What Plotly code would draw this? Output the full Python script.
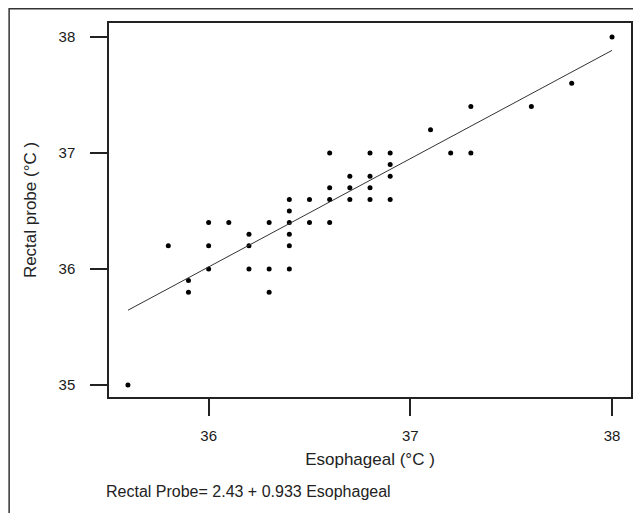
import plotly.graph_objs as go

# esophageal vs rectal probe temperatures (°C)
esophageal = [35.6, 35.8, 35.9, 35.9, 36.0, 36.0, 36.0, 36.1, 36.2, 36.2, 36.2,
              36.3, 36.3, 36.3, 36.4, 36.4, 36.4, 36.4, 36.4, 36.4, 36.5, 36.5,
              36.6, 36.6, 36.6, 36.6, 36.7, 36.7, 36.7, 36.8, 36.8, 36.8, 36.8,
              36.9, 36.9, 36.9, 36.9, 37.1, 37.2, 37.3, 37.3, 37.6, 37.8, 38.0]
rectal = [35.0, 36.2, 35.9, 35.8, 36.4, 36.2, 36.0, 36.4, 36.3, 36.2, 36.0,
          36.4, 36.0, 35.8, 36.6, 36.5, 36.4, 36.3, 36.2, 36.0, 36.6, 36.4,
          37.0, 36.7, 36.6, 36.4, 36.8, 36.7, 36.6, 37.0, 36.8, 36.7, 36.6,
          37.0, 36.9, 36.8, 36.6, 37.2, 37.0, 37.4, 37.0, 37.4, 37.6, 38.0]

intercept = 2.43
slope = 0.933
ticks = [35, 36, 37, 38]

# page has an 8px body margin, so the figure is drawn 8px in
W, H = 633, 505
L, R, T, B = 101, 8, 15, 116
pw, ph = W - L - R, H - T - B

font = "Liberation Sans, Arial, sans-serif"

fig = go.Figure()
fig.add_trace(go.Scatter(
    x=esophageal, y=rectal, mode='markers',
    marker={'color': 'black', 'size': 5}, showlegend=False))

x_fit = [min(esophageal), max(esophageal)]
y_fit = [intercept + slope * v for v in x_fit]
fig.add_trace(go.Scatter(
    x=x_fit, y=y_fit, mode='lines',
    line={'color': '#333333', 'width': 1}, showlegend=False))

axis_style = dict(
    showgrid=False, zeroline=False, showline=True, mirror=True,
    linecolor='#222222', linewidth=1.5, ticks='outside', ticklen=17,
    tickwidth=1.5, tickcolor='#222222',
    tickfont={'family': font, 'size': 15, 'color': '#1a1a1a'},
    tickvals=ticks,
)

fig.update_layout(
    width=W, height=H,
    margin=dict(l=L, r=R, t=T, b=B, pad=0),
    plot_bgcolor='white', paper_bgcolor='white',
    xaxis=dict(axis_style, range=[35.506, 38.094],
               ticklabelstandoff=7,
               title=dict(text='Esophageal (°C )', standoff=10,
                          font={'family': font, 'size': 17, 'color': '#222222'})),
    yaxis=dict(axis_style, range=[34.897, 38.12],
               ticklabelstandoff=12,
               title=dict(text='Rectal probe (°C )', standoff=18,
                          font={'family': font, 'size': 17, 'color': '#222222'})),
    annotations=[dict(
        text='Rectal Probe= 2.43 + 0.933 Esophageal',
        xref='paper', yref='paper', x=(96 - L) / pw, y=(389 - 484) / ph,
        xanchor='left', yanchor='middle', showarrow=False,
        font={'family': font, 'size': 16, 'color': '#222222'})],
    shapes=[dict(
        type='rect', xref='paper', yref='paper',
        x0=(0.75 - L) / pw, x1=(700 - L) / pw,
        y0=(389 - 600) / ph, y1=(389 - 0.75) / ph,
        line={'color': '#333333', 'width': 1.5})],
)

fig.write_html("out.html")
